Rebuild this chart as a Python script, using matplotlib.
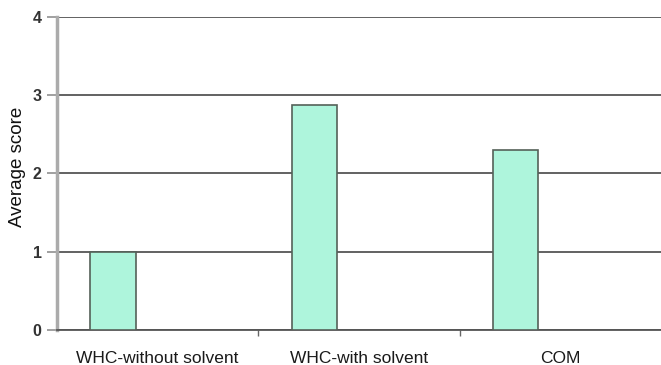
import matplotlib
matplotlib.use("Agg")
import matplotlib.pyplot as plt
import numpy as np

# data
categories = ["WHC-without solvent", "WHC-with solvent", "COM"]
scores = [1.0, 2.88, 2.3]
y_ticks = [0, 1, 2, 3, 4]

plt.rcParams['font.family'] = ['Liberation Sans', 'DejaVu Sans']

fig = plt.figure(figsize=(6.61, 3.65), dpi=100)
ax = fig.add_axes([57 / 661, 35 / 365, 604 / 661, 313 / 365])

x = np.arange(len(categories))
ax.bar(x - 0.222, scores, width=0.224, color="#aef5dc",
       edgecolor="#556159", linewidth=1.2, zorder=3)

ax.set_xlim(-0.5, len(categories) - 0.5)
ax.set_ylim(0, 4)

# gridlines
ax.set_yticks(y_ticks)
ax.yaxis.grid(True, color="#555555", linewidth=1.3, zorder=1)
ax.set_axisbelow(True)

# spines
ax.spines["top"].set_visible(False)
ax.spines["right"].set_visible(False)
ax.spines["left"].set_color("#ababab")
ax.spines["left"].set_linewidth(2.5)
ax.spines["bottom"].set_color("#555555")
ax.spines["bottom"].set_linewidth(1.3)

# ticks
ax.set_xticks(x)
ax.set_xticklabels(categories, fontsize=12.5, color="#1a1a1a")
ax.tick_params(axis="x", length=0, pad=15)
ax.set_xticks(x[:-1] + 0.5, minor=True)
ax.tick_params(axis="x", which="minor", length=4, width=1, color="#666666")

ax.set_yticklabels([str(t) for t in y_ticks], fontsize=11.5,
                   fontweight="bold", color="#333333")
ax.tick_params(axis="y", length=7, width=1.3, color="#999999", pad=4)

ax.set_ylabel("Average score", fontsize=13.5, color="#111111")
ax.yaxis.set_label_coords(-0.052, 0.52)

fig.savefig("out.png", dpi=100)
